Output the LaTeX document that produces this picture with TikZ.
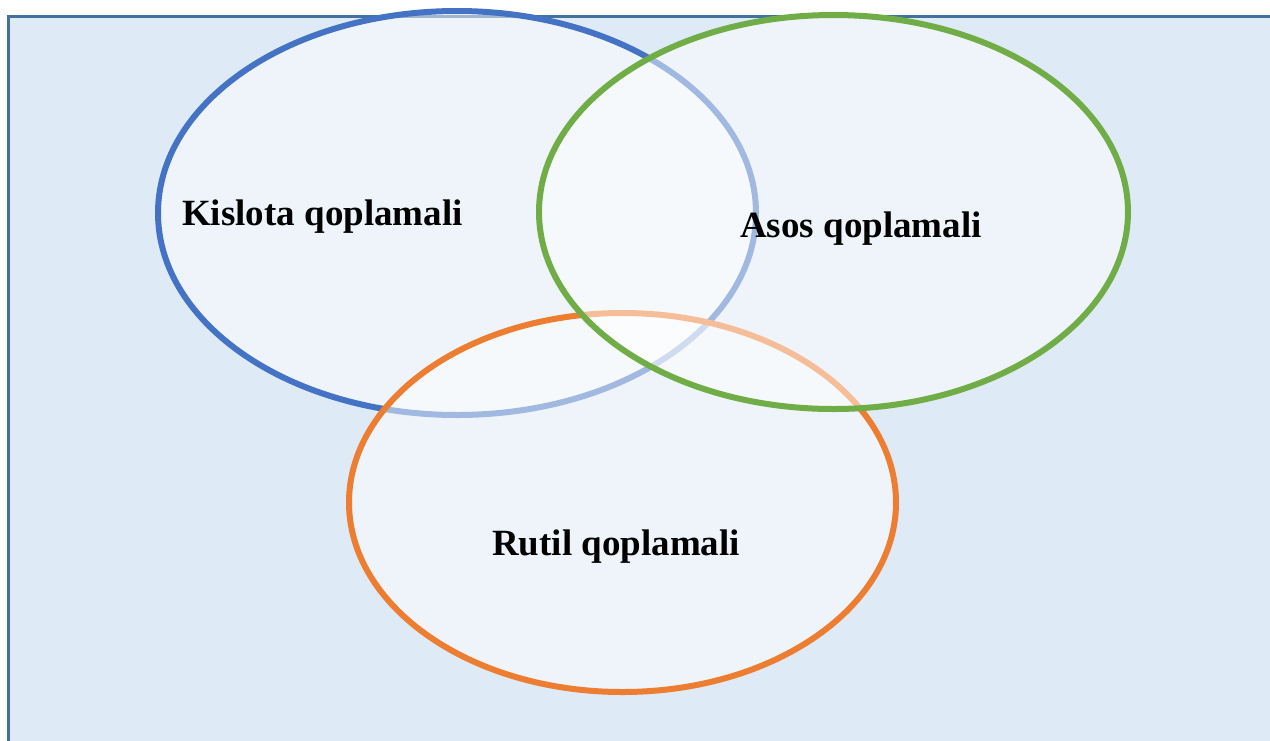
\documentclass[tikz,border=0pt]{standalone}
\usepackage{fontspec}
\setmainfont{Liberation Serif}
\usetikzlibrary{shapes.geometric}
\definecolor{setblue}{HTML}{4472C4}
\definecolor{setorange}{HTML}{ED7D31}
\definecolor{setgreen}{HTML}{70AD47}
\definecolor{panelfill}{HTML}{DEEAF6}
\definecolor{panelline}{HTML}{41719C}
\begin{document}
\begin{tikzpicture}[x=1pt, y=-1pt,
  setring/.style = {shape=ellipse, line width=6pt,
    inner sep=0pt, outer sep=0pt, fill=white, fill opacity=0.5},
  setlabel/.style = {anchor=base west, inner sep=0pt,
    font=\fontsize{37}{44}\selectfont\bfseries}]
  \useasboundingbox (0,0) rectangle (1270,740);
  \clip (0,0) rectangle (1270,740);
  \draw[panelline, fill=panelfill, line width=3pt] (8,16) rectangle (1300,780);
  \node[setring, draw=setblue, minimum width=598pt, minimum height=404pt] (kislota) at (457,213) {};
  \node[setring, draw=setorange, minimum width=547pt, minimum height=379pt] (rutil) at (622.5,502.5) {};
  \node[setring, draw=setgreen, minimum width=589pt, minimum height=394pt] (asos) at (833.5,212) {};
  \node[setlabel] (kislotatext) at (182,225) {Kislota qoplamali};
  \node[setlabel] (asostext) at (740,237) {Asos qoplamali};
  \node[setlabel] (rutiltext) at (492,555) {Rutil qoplamali};
\end{tikzpicture}
\end{document}
